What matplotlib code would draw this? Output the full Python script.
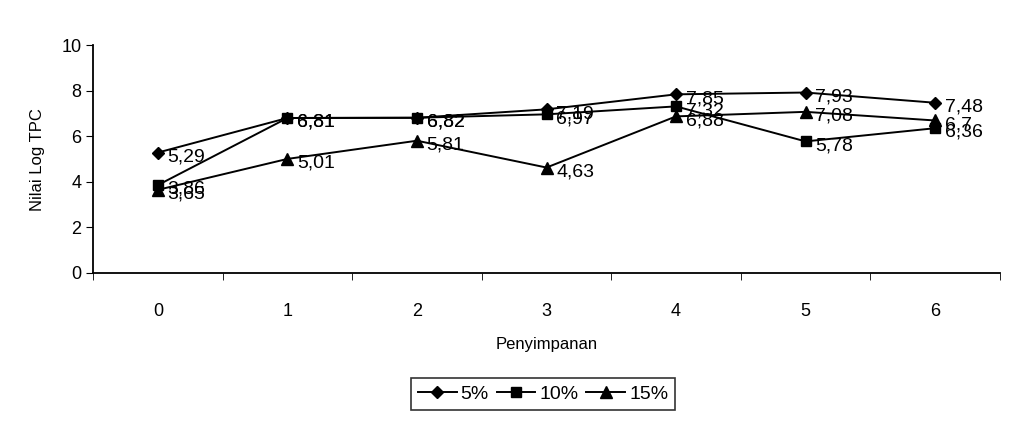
import matplotlib.pyplot as plt
import numpy as np

plt.rcParams["font.family"] = ["Liberation Sans", "DejaVu Sans"]

# Data
hari = [0, 1, 2, 3, 4, 5, 6]
seri = ["5%", "10%", "15%"]
nilai_5 = [5.29, 6.81, 6.82, 7.19, 7.85, 7.93, 7.48]
nilai_10 = [3.86, 6.81, 6.82, 6.97, 7.32, 5.78, 6.36]
nilai_15 = [3.65, 5.01, 5.81, 4.63, 6.88, 7.08, 6.7]

fig = plt.figure(figsize=(10.13, 4.33), dpi=100)
ax = fig.add_axes([0.092, 0.37, 0.895, 0.525])

markers = ["D", "s", "^"]
sizes = [6, 7, 8]
for nama, y, m, ms in zip(seri, [nilai_5, nilai_10, nilai_15], markers, sizes):
    ax.plot(hari, y, color="black", lw=1.4, marker=m, ms=ms, label=nama)
    for xi, yi in zip(hari, y):
        ax.annotate(f"{yi:g}".replace(".", ","), (xi, yi), xytext=(7, -3),
                    textcoords="offset points", ha="left", va="center",
                    fontsize=14)

ax.set_xlim(-0.5, 6.5)
ax.set_ylim(0, 10)
ax.set_yticks([0, 2, 4, 6, 8, 10])
ax.set_xticks(hari)
ax.set_xticks(np.arange(-0.5, 7, 1), minor=True)
ax.tick_params(axis="x", which="major", length=0, pad=22, labelsize=13)
ax.tick_params(axis="x", which="minor", length=5, direction="out")
ax.tick_params(axis="y", length=5, direction="out", labelsize=13)
ax.spines["top"].set_visible(False)
ax.spines["right"].set_visible(False)
ax.spines["left"].set_linewidth(1.3)
ax.spines["bottom"].set_linewidth(1.3)

ax.set_xlabel("Penyimpanan", fontsize=12, labelpad=12)
ax.set_ylabel("Nilai Log TPC", fontsize=12, labelpad=12)

handles, labels = ax.get_legend_handles_labels()
leg = fig.legend(handles, labels, loc="center", bbox_to_anchor=(0.536, 0.09),
                 ncol=3, frameon=True, fancybox=False, edgecolor="black",
                 fontsize=14, handlelength=2.0, columnspacing=0.4,
                 handletextpad=0.2, borderpad=0.35, borderaxespad=0)
leg.get_frame().set_linewidth(1.2)

fig.savefig("out.png", dpi=100)
